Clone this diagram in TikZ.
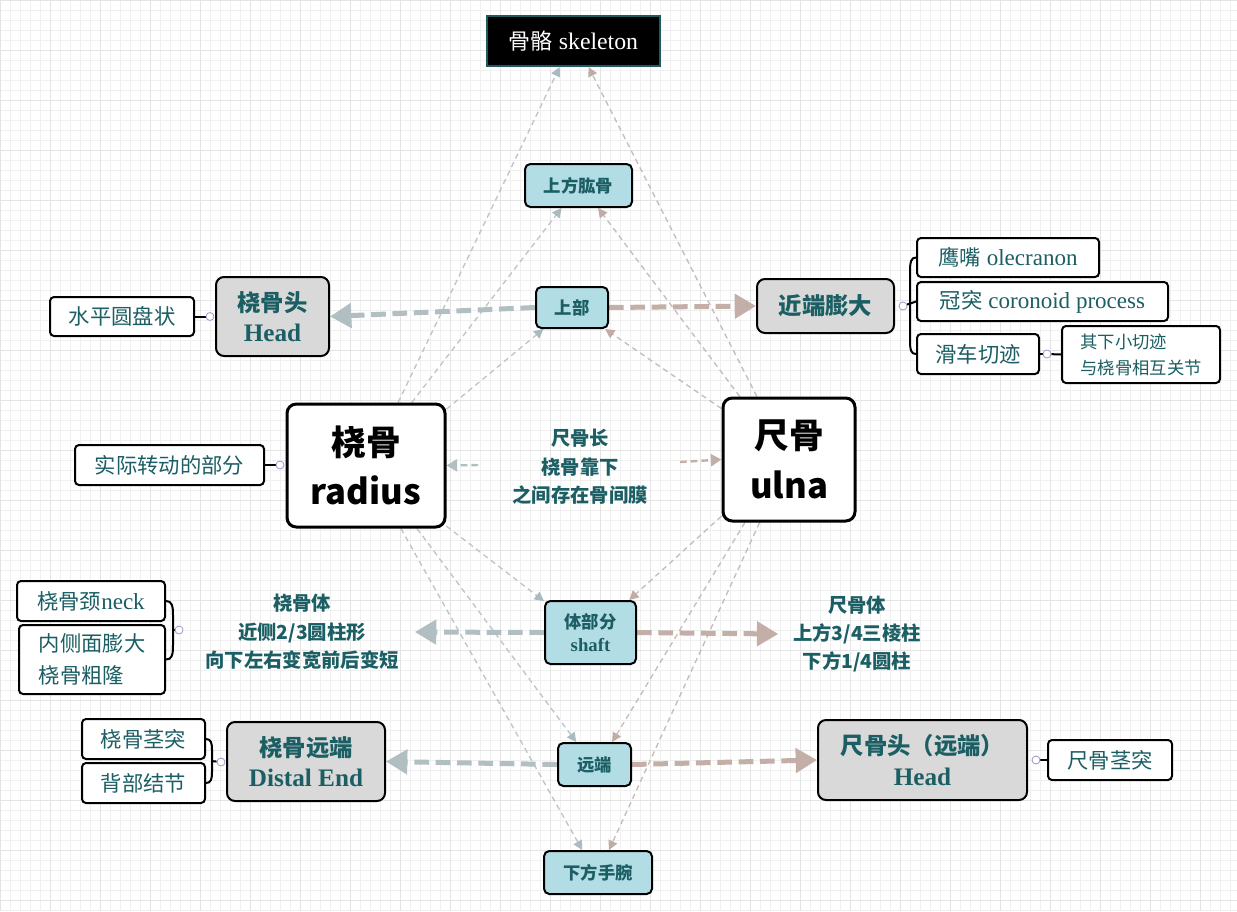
\documentclass[tikz,border=0pt]{standalone}
\usepackage{fontspec}
\setmainfont{Liberation Serif}[Scale=1.08]
\newfontfamily\cjk{Noto Sans CJK SC}
\usetikzlibrary{arrows.meta}
\definecolor{tealtxt}{HTML}{1B5E63}
\definecolor{lblue}{HTML}{B3DDE5}
\definecolor{lgray}{HTML}{D9D9D9}
\definecolor{skbord}{HTML}{1F5B5E}
\definecolor{thinR}{HTML}{BCC6C9}
\definecolor{tipR}{HTML}{A9BBC0}
\definecolor{thinU}{HTML}{C8BCB8}
\definecolor{tipU}{HTML}{C0ACA4}
\definecolor{thickL}{HTML}{B1BEC2}
\definecolor{thickR}{HTML}{C3AFA7}
\definecolor{knobc}{HTML}{9999CC}
\definecolor{gridmin}{HTML}{F0F0F0}
\definecolor{gridmaj}{HTML}{E4E4E4}
\pgfdeclarelayer{grid}
\pgfdeclarelayer{edges}
\pgfsetlayers{grid,edges,main}
\begin{document}
\begin{tikzpicture}[x=0.75pt,y=-0.75pt,
  box/.style={draw=black, line width=1.5pt, rounded corners=4pt, inner sep=0pt, align=center, text=tealtxt},
  bluebox/.style={box, fill=lblue, font=\cjk\bfseries\fontsize{13}{17}\selectfont},
  graybox/.style={box, fill=lgray, rounded corners=6pt, font=\bfseries\fontsize{17.5}{23}\selectfont},
  leaf/.style={box, fill=white, rounded corners=3pt, font=\fontsize{16}{24}\selectfont},
  cleaf/.style={leaf, font=\cjk\fontsize{16}{24}\selectfont},
  bone/.style={box, fill=white, line width=2.25pt, rounded corners=7pt, text=black, font=\cjk\bfseries\fontsize{26}{37}\selectfont},
  plain/.style={align=center, text=tealtxt, inner ysep=0pt, font=\cjk\bfseries\fontsize{14.5}{21.3}\selectfont},
  knob/.style={circle, draw=knobc, fill=white, line width=0.6pt, minimum size=6pt, inner sep=0pt},
  brc/.style={draw=black, line width=1.5pt},
  thinr/.style={draw=thinR, line width=1pt, dash pattern=on 4pt off 3pt, -{Triangle[length=7pt,width=7pt,color=tipR]}},
  thinu/.style={draw=thinU, line width=1pt, dash pattern=on 4pt off 3pt, -{Triangle[length=7pt,width=7pt,color=tipU]}},
  midl/.style={draw=thickL, line width=1.8pt, dash pattern=on 5pt off 3pt, -{Triangle[length=8pt,width=9pt,color=thickL]}},
  midr/.style={draw=thickR, line width=1.8pt, dash pattern=on 5pt off 3pt, -{Triangle[length=8pt,width=9pt,color=thickR]}},
  thickl/.style={draw=thickL, line width=3.75pt, dash pattern=on 11pt off 5pt, -{Triangle[length=16pt,width=18pt,color=thickL]}},
  thickr/.style={draw=thickR, line width=3.75pt, dash pattern=on 11pt off 5pt, -{Triangle[length=16pt,width=18pt,color=thickR]}},
  gridminor/.style={draw=gridmin, line width=0.75pt},
  gridmajor/.style={draw=gridmaj, line width=0.75pt}
]
\useasboundingbox (0,0) rectangle (1237,911);
\begin{pgfonlayer}{grid}
\fill[white] (0,0) rectangle (1237,911);
\foreach \x in {0,10,...,1230}{\draw[gridminor] (\x,0) -- (\x,911);}
\foreach \y in {0,10,...,910}{\draw[gridminor] (0,\y) -- (1237,\y);}
\foreach \x in {0,50,...,1200}{\draw[gridmajor] (\x,0) -- (\x,911);}
\foreach \y in {0,50,...,900}{\draw[gridmajor] (0,\y) -- (1237,\y);}
\end{pgfonlayer}

% nodes
\node[draw=skbord, line width=1.5pt, fill=black, text=white, inner sep=0pt, minimum width=129.75pt, minimum height=37.5pt, font=\fontsize{16.5}{20}\selectfont] (sk) at (573.5,41) {{\cjk 骨骼} skeleton};
\node[bluebox, minimum width=80.25pt, minimum height=32.25pt] (hum) at (578.5,185.5) {上方肱骨};
\node[bluebox, minimum width=54pt, minimum height=30.75pt] (up) at (572,307.5) {上部};
\node[graybox, minimum width=84.75pt, minimum height=59.25pt] (rhead) at (272.5,316.5) {{\cjk 桡骨头}\\Head};
\node[cleaf, minimum width=108pt, minimum height=29.25pt] (disc) at (122,316.5) {水平圆盘状};
\node[graybox, minimum width=102.75pt, minimum height=40.5pt] (prox) at (825.5,306) {\cjk 近端膨大};
\node[leaf, minimum width=136.5pt, minimum height=29.25pt] (olec) at (1008,257.5) {{\cjk 鹰嘴} olecranon};
\node[leaf, minimum width=188.25pt, minimum height=29.25pt] (coro) at (1042.5,301.5) {{\cjk 冠突} coronoid process};
\node[cleaf, minimum width=91.5pt, minimum height=30pt] (troch) at (978,354) {滑车切迹};
\node[leaf, align=left, minimum width=118.5pt, minimum height=42.75pt, font=\cjk\fontsize{13}{19.5}\selectfont] (notch) at (1141,354.5) {其下小切迹\\与桡骨相互关节};
\node[bone, minimum width=118.5pt, minimum height=92.25pt] (radius) at (366,465.5) {桡骨\\radius};
\node[cleaf, minimum width=141.75pt, minimum height=30pt] (rot) at (169.5,465) {实际转动的部分};
\node[bone, minimum width=99pt, minimum height=92.25pt] (ulna) at (789,459.5) {尺骨\\ulna};
\node[plain] (mid) at (580,467) {尺骨长\\桡骨靠下\\之间存在骨间膜};
\node[bluebox, minimum width=68.25pt, minimum height=47.25pt, font=\bfseries\fontsize{13}{17.5}\selectfont] (shaft) at (590.5,632.5) {{\cjk 体部分}\\shaft};
\node[plain, inner xsep=12pt] (rbody) at (302,632) {桡骨体\\近侧2/3圆柱形\\向下左右变宽前后变短};
\node[plain, inner xsep=11pt] (ubody) at (857,634) {尺骨体\\上方3/4三棱柱\\下方1/4圆柱};
\node[leaf, minimum width=111pt, minimum height=30pt] (neck) at (91,601) {{\cjk 桡骨颈}neck};
\node[cleaf, align=left, minimum width=109.5pt, minimum height=51.75pt] (tub) at (92,659.5) {内侧面膨大\\桡骨粗隆};
\node[bluebox, minimum width=54.75pt, minimum height=32.25pt] (dist) at (594.5,764.5) {远端};
\node[graybox, minimum width=118.5pt, minimum height=59.25pt] (rdist) at (306,761.5) {{\cjk 桡骨远端}\\Distal End};
\node[graybox, minimum width=156.75pt, minimum height=60pt] (uhead) at (922.5,760) {{\cjk 尺骨头（远端）}\\Head};
\node[cleaf, minimum width=93pt, minimum height=30pt] (styl) at (1110,760) {尺骨茎突};
\node[cleaf, minimum width=92.25pt, minimum height=30pt] (rstyl) at (143.5,739) {桡骨茎突};
\node[cleaf, minimum width=92.25pt, minimum height=30pt] (dors) at (143.5,783) {背部结节};
\node[bluebox, minimum width=81pt, minimum height=32.25pt] (wrist) at (598,872.5) {下方手腕};

% knobs
\node[knob] (k1) at (210,316.5) {};
\node[knob] (k2) at (280,465) {};
\node[knob] (k3) at (179,630) {};
\node[knob] (k4) at (903,306) {};
\node[knob] (k5) at (1047,354) {};
\node[knob] (k6) at (221,762) {};
\node[knob] (k7) at (1036,760) {};
\coordinate (ml) at (478,465);
\coordinate (mr) at (680,462);
\coordinate (b3) at (172,630);
\coordinate (b6) at (211,761);

\begin{pgfonlayer}{edges}
% thin connectors from radius
\draw[thinr] (radius.63) -- (sk.-118);
\draw[thinr] (radius.54) -- (hum.-127);
\draw[thinr] (radius.35) -- (up.-143);
\draw[thinr] (radius.-37) -- (shaft.146);
\draw[thinr] (radius.-51.5) -- (dist.129);
\draw[thinr] (radius.-61) -- (wrist.125);
% thin connectors from ulna
\draw[thinu] (ulna.117.5) -- (sk.-60);
\draw[thinu] (ulna.128) -- (hum.-49);
\draw[thinu] (ulna.143) -- (up.-33.5);
\draw[thinu] (ulna.-140) -- (shaft.40.8);
\draw[thinu] (ulna.-125.6) -- (dist.52.5);
\draw[thinu] (ulna.-115) -- (wrist.64.5);
% center arrows
\draw[midl] (ml) -- (radius.east);
\draw[midr] (mr) -- (ulna.west);
% thick arrows
\draw[thickl] (up.west) -- (rhead.east);
\draw[thickr] (up.east) -- (prox.west);
\draw[thickl] (shaft.west) -- (rbody.east);
\draw[thickr] (shaft.east) -- (ubody.west);
\draw[thickl] (dist.west) -- (rdist.east);
\draw[thickr] (dist.east) -- (uhead.west);
% mind-map links
\draw[brc] (disc.east) -- (k1);
\draw[brc] (rot.east) -- (k2);
\draw[brc] (troch.east) -- (k5);
\draw[brc] (k5) -- (notch.west);
\draw[brc] (k7) -- (styl.west);
\draw[brc] (olec.west) .. controls (911,257.5) and (910,262) .. (910,272) -- (910,340) .. controls (910,350) and (911,354) .. (troch.west);
\draw[brc] (k4) -- (coro.west);
\draw[brc] (neck.east) .. controls (172,601) and (173,606) .. (173,615) -- (173,645) .. controls (173,655) and (172,659.5) .. (tub.east);
\draw[brc] (b3) -- (k3);
\draw[brc] (rstyl.east) .. controls (211,739) and (212,743) .. (212,750) -- (212,772) .. controls (212,779) and (211,783) .. (dors.east);
\draw[brc] (b6) -- (k6);
\end{pgfonlayer}
\end{tikzpicture}
\end{document}
